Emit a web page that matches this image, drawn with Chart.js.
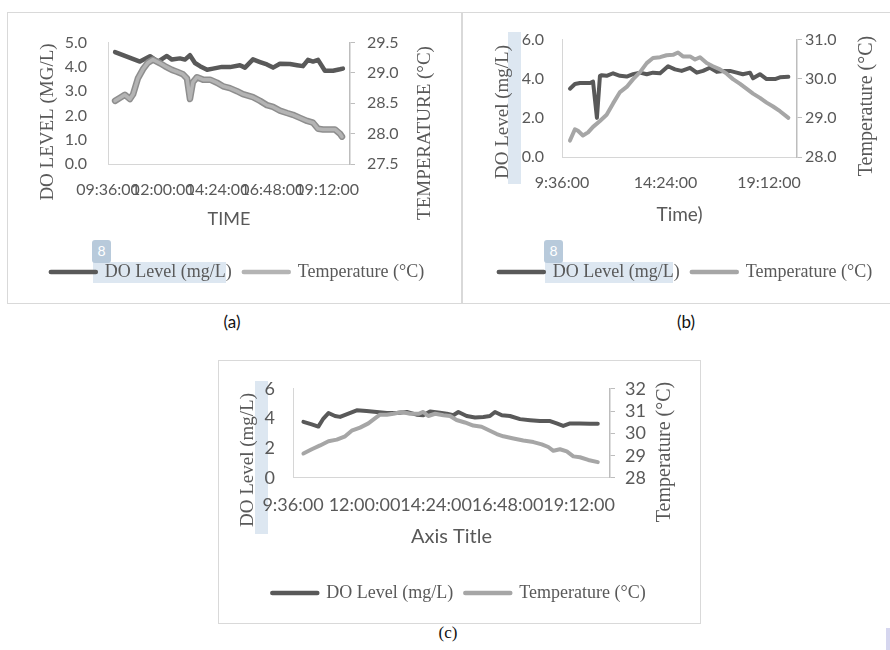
<!DOCTYPE html>
<html><head><meta charset="utf-8">
<script src="https://cdn.jsdelivr.net/npm/chart.js@4.4.1/dist/chart.umd.min.js"></script>
<style>
html,body{margin:0;padding:0;background:#fff;width:890px;height:650px;overflow:hidden;position:relative;font-family:Lato,sans-serif;}
.panel{position:absolute;border:1px solid #d9d9d9;box-sizing:border-box;}
.hl{position:absolute;background:#dde7f1;}
.badge{position:absolute;background:#b8cadb;color:#fff;font:14px Lato,sans-serif;text-align:center;border-radius:3px;line-height:22px;z-index:5;}
canvas{position:absolute;z-index:2;}
.cap{position:absolute;font-size:17px;color:#111;transform:translate(-50%,-50%);white-space:nowrap;}
</style></head>
<body>
<div class="panel" style="left:7px;top:12px;width:455px;height:292px"></div>
<div class="panel" style="left:462px;top:12px;width:440px;height:292px"></div>
<div class="panel" style="left:218px;top:360px;width:483px;height:264px"></div>

<div class="hl" style="left:93px;top:262px;width:133px;height:21px"></div>
<div class="hl" style="left:545px;top:262px;width:128px;height:21px"></div>
<div class="hl" style="left:508px;top:32px;width:13px;height:152px"></div>
<div class="hl" style="left:255px;top:381px;width:13px;height:153px"></div>
<div class="badge" style="left:92px;top:240px;width:19px;height:23px">8</div>
<div class="badge" style="left:544px;top:240px;width:19px;height:23px">8</div>
<div style="position:absolute;left:886px;top:628px;width:4px;height:22px;background:#d6d6ef"></div>

<canvas id="ca" width="453" height="291" style="left:8px;top:12px"></canvas>
<canvas id="cb" width="427" height="291" style="left:463px;top:12px"></canvas>
<canvas id="cc" width="482" height="263" style="left:218px;top:360px"></canvas>

<div class="cap" style="left:232px;top:321px">(a)</div>
<div class="cap" style="left:686px;top:321px">(b)</div>
<div class="cap" style="left:448px;top:633px;font-family:'Liberation Serif',serif">(c)</div>

<script>
// ---------------- DATA (times in decimal hours) ----------------
const seriesNames = ['DO Level (mg/L)', 'Temperature (°C)'];

// (a)
const xTickLabelsA = ['09:36:00', '12:00:00', '14:24:00', '16:48:00', '19:12:00'];
const doTimeA = [9.91,10.34,11.0,11.44,11.79,12.18,12.40,12.75,12.97,13.19,13.41,13.63,13.94,14.20,14.59,14.94,15.38,15.60,15.95,16.26,16.56,16.83,17.13,17.57,17.88,18.14,18.36,18.58,18.80,19.10,19.46,19.76,19.89];
const doLevelA = [4.61,4.45,4.22,4.44,4.22,4.45,4.30,4.35,4.30,4.48,4.16,4.03,3.88,3.93,4.00,3.99,4.07,3.97,4.31,4.20,4.10,3.97,4.13,4.12,4.07,4.03,4.29,4.22,4.29,3.84,3.84,3.90,3.93];
const tempTimeA = [9.91,10.13,10.34,10.56,10.70,10.91,11.13,11.35,11.57,11.88,12.10,12.40,12.62,12.88,13.06,13.19,13.32,13.50,13.76,14.07,14.37,14.64,14.94,15.25,15.51,15.95,16.26,16.56,16.83,17.13,17.44,17.70,18.01,18.32,18.58,18.80,19.02,19.32,19.54,19.76,19.85];
const tempA = [28.54,28.59,28.64,28.57,28.65,28.91,29.06,29.17,29.22,29.16,29.11,29.05,29.02,28.98,28.91,28.57,28.85,28.93,28.89,28.89,28.84,28.78,28.75,28.70,28.65,28.60,28.54,28.47,28.44,28.38,28.34,28.31,28.26,28.21,28.18,28.08,28.07,28.07,28.07,28.00,27.95];

// (b)
const xTickLabelsB = ['9:36:00', '14:24:00', '19:12:00'];
const doTimeB = [9.97,10.2,10.43,10.90,11.04,11.22,11.36,11.44,11.67,11.97,12.29,12.6,12.9,13.22,13.53,13.82,14.15,14.52,14.84,15.15,15.54,15.85,16.14,16.46,16.78,17.07,17.39,17.70,17.99,18.32,18.46,18.78,19.09,19.48,19.71,20.10];
const doLevelB = [3.49,3.73,3.78,3.78,3.85,2.0,4.15,4.18,4.15,4.28,4.15,4.11,4.23,4.31,4.23,4.31,4.28,4.64,4.48,4.40,4.56,4.31,4.40,4.56,4.35,4.40,4.40,4.31,4.23,4.31,4.02,4.23,3.98,3.98,4.07,4.10];
const tempTimeB = [9.97,10.2,10.34,10.57,10.81,11.04,11.36,11.67,11.97,12.29,12.6,12.9,13.22,13.53,13.82,14.15,14.45,14.75,14.98,15.21,15.54,15.77,16.0,16.31,16.60,16.93,17.24,17.53,17.86,18.17,18.46,18.78,19.09,19.39,19.71,20.10];
const tempB = [28.42,28.71,28.67,28.55,28.63,28.77,28.92,29.08,29.37,29.66,29.79,29.99,30.17,30.40,30.53,30.55,30.60,30.61,30.67,30.57,30.57,30.49,30.55,30.40,30.32,30.24,30.13,29.99,29.87,29.74,29.62,29.51,29.39,29.29,29.17,29.0];

// (c)
const xTickLabelsC = ['9:36:00', '12:00:00', '14:24:00', '16:48:00', '19:12:00'];
const doTimeC = [9.95,10.23,10.45,10.62,10.79,11.01,11.18,11.46,11.74,12.07,12.41,12.75,13.08,13.42,13.75,13.97,14.20,14.53,14.76,14.98,15.15,15.43,15.71,15.99,16.21,16.38,16.61,16.88,17.22,17.56,17.89,18.23,18.45,18.67,18.90,19.23,19.57,19.83];
const doLevelC = [3.78,3.61,3.46,4.0,4.37,4.17,4.11,4.33,4.55,4.50,4.44,4.37,4.37,4.44,4.26,4.22,4.48,4.39,4.33,4.22,4.44,4.17,4.07,4.11,4.17,4.44,4.22,4.17,3.96,3.89,3.83,3.83,3.67,3.50,3.67,3.67,3.65,3.65];
const tempTimeC = [9.95,10.23,10.51,10.79,11.07,11.35,11.57,11.85,12.13,12.35,12.52,12.75,12.97,13.25,13.53,13.81,13.97,14.14,14.37,14.65,14.87,15.09,15.37,15.65,15.93,16.21,16.44,16.66,17.0,17.33,17.67,17.95,18.17,18.34,18.56,18.79,19.01,19.23,19.51,19.83];
const tempC = [29.10,29.29,29.46,29.65,29.72,29.87,30.12,30.26,30.45,30.67,30.84,30.84,30.88,30.96,30.88,30.88,30.96,30.78,30.88,30.81,30.78,30.60,30.49,30.35,30.30,30.12,29.97,29.87,29.77,29.68,29.61,29.51,29.39,29.22,29.29,29.19,28.97,28.93,28.81,28.71];

// ---------------- helpers ----------------
const toHours = s => { const p = s.split(':').map(Number); return p[0] + p[1] / 60 + (p[2] || 0) / 3600; };
const pts = (t, v) => t.map((x, i) => ({x, y: v[i]}));
const INK = '#595959';

const sideTitles = {
  id: 'sideTitles',
  afterDraw(chart, args, opts) {
    const ctx = chart.ctx;
    (opts.items || []).forEach(it => {
      ctx.save();
      ctx.translate(it.x, it.y);
      ctx.rotate(it.rot * Math.PI / 180);
      ctx.font = it.font;
      ctx.fillStyle = it.color;
      ctx.textAlign = 'center';
      ctx.textBaseline = 'middle';
      ctx.fillText(it.text, 0, 0);
      ctx.restore();
    });
  }
};
const outline = {
  id: 'outline',
  beforeDatasetDraw(chart, args, opts) {
    if (!opts || opts.index !== args.index) return;
    const el = args.meta.dataset;
    const saved = el.options;
    el.options = Object.assign({}, saved, {borderWidth: opts.width, borderColor: opts.color});
    el.draw(chart.ctx, chart.chartArea);
    el.options = saved;
  }
};
Chart.register(sideTitles, outline);

function build(id, L) {
  const legendFs = 18, legendPad = 12;
  const legendTop = L.legendY - legendPad - legendFs / 2;
  const legendH = legendFs + legendPad + 10;
  const padBottom = L.H - legendTop - legendH;
  const xH = legendTop - L.area.b;
  const tickLH = L.tickFs * 1.2;
  const xTitleLH = L.xTitleFs * 1.2;
  const xTicks = L.xLabels.map(toHours);
  const serif = "'Liberation Serif', 'Times New Roman', serif";
  return new Chart(document.getElementById(id), {
    type: 'line',
    data: {
      datasets: [
        {label: seriesNames[0], data: pts(L.doT, L.doV), yAxisID: 'yDO', borderColor: '#595959',
         borderWidth: L.doW, order: 1},
        {label: seriesNames[1], data: pts(L.tT, L.tV), yAxisID: 'yT', borderColor: L.tColor,
         borderWidth: L.tW, order: 0}
      ]
    },
    options: {
      responsive: false, animation: false, events: [],
      layout: {padding: {left: L.pl, right: 0, top: L.area.t, bottom: padBottom}},
      elements: {
        point: {radius: 0, hoverRadius: 0},
        line: {tension: 0, borderJoinStyle: 'round', borderCapStyle: 'round'}
      },
      scales: {
        x: {
          type: 'linear', position: 'bottom', bounds: 'data', min: L.xMin, max: L.xMax,
          afterBuildTicks: s => { s.ticks = xTicks.map(v => ({value: v})); },
          afterFit: s => { s.height = xH; },
          grid: {display: false, drawTicks: false},
          border: {display: true, color: '#d6d6d6', width: 1},
          ticks: {autoSkip: false, maxRotation: 0, minRotation: 0, padding: L.xTickY - L.area.b - tickLH / 2,
                  color: INK, font: {family: 'Lato', size: L.tickFs},
                  callback: (v, i) => L.xLabels[i]},
          title: {display: true, text: L.xTitle, color: INK, font: {family: 'Lato', size: L.xTitleFs},
                  padding: {top: 0, bottom: legendTop - xTitleLH / 2 - L.xTitleY}}
        },
        yDO: {
          type: 'linear', position: 'left', min: L.doMin, max: L.doMax,
          afterFit: s => { s.width = L.area.l - L.pl; },
          grid: {display: false, drawTicks: false},
          border: {display: true, color: '#d6d6d6', width: 1},
          ticks: {stepSize: L.doStep, autoSkip: false, padding: L.lPad, color: INK,
                  font: {family: 'Lato', size: L.tickFs}, callback: v => v.toFixed(L.dec)}
        },
        yT: {
          type: 'linear', position: 'right', min: L.tMin, max: L.tMax,
          afterFit: s => { s.width = L.W - L.area.r; },
          grid: {display: true, drawOnChartArea: false, drawTicks: true, tickLength: 5,
                 color: 'rgba(0,0,0,0)', tickColor: '#bdbdbd', tickWidth: 1},
          border: {display: true, color: '#bdbdbd', width: 1.5},
          ticks: {stepSize: L.tStep, autoSkip: false, padding: L.rPad, color: INK,
                  font: {family: 'Lato', size: L.tickFs}, callback: v => v.toFixed(L.dec)}
        }
      },
      plugins: {
        tooltip: {enabled: false},
        legend: {
          display: true, position: 'bottom', align: 'center',
          labels: {
            usePointStyle: true, pointStyle: 'line', pointStyleWidth: 45, padding: legendPad,
            color: INK, font: {family: serif, size: legendFs},
            sort: (a, b) => a.datasetIndex - b.datasetIndex,
            generateLabels: ch => Chart.defaults.plugins.legend.labels.generateLabels(ch).map(it =>
              Object.assign(it, {lineWidth: 4.5, lineCap: 'round',
                strokeStyle: ch.data.datasets[it.datasetIndex].borderColor}))
          }
        },
        sideTitles: {items: [
          {text: L.lTitle, x: L.lTitlePos[0], y: L.lTitlePos[1], rot: -90, font: '19px ' + serif, color: INK},
          {text: L.rTitle, x: L.rTitlePos[0], y: L.rTitlePos[1], rot: -90, font: L.rTitleFs + 'px ' + serif, color: INK}
        ]},
        outline: L.outline || {}
      }
    }
  });
}

// (a)
build('ca', {
  W: 453, H: 291, area: {l: 100, r: 342, t: 23, b: 152}, pl: 6, legendY: 260,
  doT: doTimeA, doV: doLevelA, tT: tempTimeA, tV: tempA,
  doW: 4.5, tW: 3.5, tColor: '#b4b4b4', outline: {index: 1, width: 6.5, color: '#8e8e8e'},
  xMin: 9.6, xMax: 20.2, xLabels: xTickLabelsA, tickFs: 16, xTickY: 178,
  xTitle: 'TIME', xTitleFs: 18, xTitleY: 207,
  doMin: 0, doMax: 5, doStep: 1, tMin: 27.5, tMax: 29.5, tStep: 0.5, dec: 1, lPad: 21, rPad: 12,
  lTitle: 'DO LEVEL (MG/L)', lTitlePos: [40, 110], rTitle: 'TEMPERATURE (°C)', rTitlePos: [417, 121], rTitleFs: 19
});
// (b)
build('cb', {
  W: 427, H: 291, area: {l: 99, r: 334, t: 24, b: 145}, pl: 18, legendY: 260,
  doT: doTimeB, doV: doLevelB, tT: tempTimeB, tV: tempB,
  doW: 4, tW: 4, tColor: '#a6a6a6',
  xMin: 9.6, xMax: 20.5, xLabels: xTickLabelsB, tickFs: 16, xTickY: 171,
  xTitle: 'Time)', xTitleFs: 19, xTitleY: 203,
  doMin: 0, doMax: 6, doStep: 2, tMin: 28, tMax: 31, tStep: 1, dec: 1, lPad: 18, rPad: 3,
  lTitle: 'DO Level (mg/L)', lTitlePos: [40, 100], rTitle: 'Temperature (°C)', rTitlePos: [404, 94], rTitleFs: 20
});
// (c)
build('cc', {
  W: 482, H: 263, area: {l: 75, r: 392, t: 26, b: 118}, pl: 0, legendY: 233,
  doT: doTimeC, doV: doLevelC, tT: tempTimeC, tV: tempC,
  doW: 4, tW: 4, tColor: '#a6a6a6',
  xMin: 9.6, xMax: 20.24, xLabels: xTickLabelsC, tickFs: 18, xTickY: 145,
  xTitle: 'Axis Title', xTitleFs: 20, xTitleY: 177,
  doMin: 0, doMax: 6, doStep: 2, tMin: 28, tMax: 32, tStep: 1, dec: 0, lPad: 18, rPad: 10,
  lTitle: 'DO Level (mg/L)', lTitlePos: [30, 100], rTitle: 'Temperature (°C)', rTitlePos: [447, 92], rTitleFs: 20
});
</script>
</body></html>
